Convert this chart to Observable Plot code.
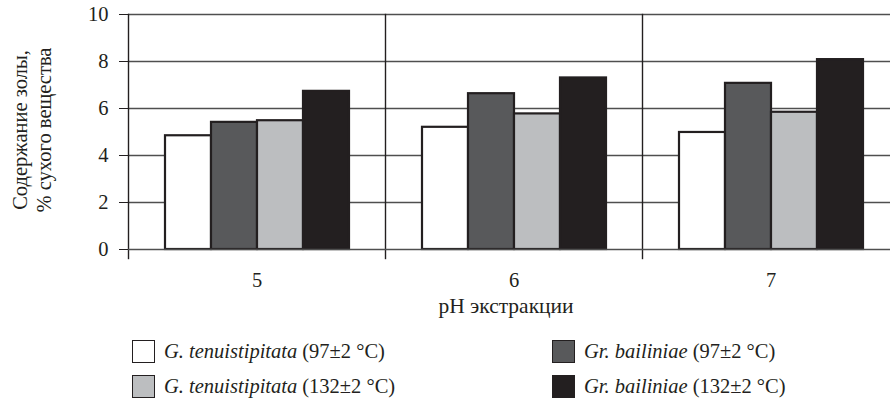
<!DOCTYPE html>
<html>
<head>
<meta charset="utf-8">
<script src="https://cdn.jsdelivr.net/npm/d3@7"></script>
<script src="https://cdn.jsdelivr.net/npm/@observablehq/plot@0.6"></script>
<style>
  html, body { margin: 0; padding: 0; background: #fff; }
  #wrap { position: relative; width: 890px; height: 401px; overflow: hidden; font-family: "Liberation Serif", serif; color: #231f20; }
  #chart svg { display: block; }
  .legend-item { position: absolute; display: flex; align-items: center; font-size: 20.5px; white-space: nowrap; }
  .swatch { box-sizing: border-box; width: 23px; height: 23px; border: 1.6px solid #231f20; margin-right: 9px; }
  .legend-item i { font-style: italic; margin-right: 5px; }
</style>
</head>
<body>
<div id="wrap">
  <div id="chart"></div>
  <div id="legend"></div>
</div>
<script>
// pH of the extraction (groups along the x axis)
const phLevels = ["5", "6", "7"];

// series: species and extraction temperature
const seriesKeys = ["gt97", "gb97", "gt132", "gb132"];
const seriesSpecies = ["G. tenuistipitata", "Gr. bailiniae", "G. tenuistipitata", "Gr. bailiniae"];
const seriesTemps = ["97±2 °C", "97±2 °C", "132±2 °C", "132±2 °C"];
const seriesFills = ["#ffffff", "#58595b", "#bcbec0", "#231f20"];

// ash content, % of dry matter, one array per pH (series order as above)
const ashPh5 = [4.84, 5.41, 5.48, 6.73];
const ashPh6 = [5.20, 6.63, 5.77, 7.30];
const ashPh7 = [4.98, 7.07, 5.84, 8.08];

const yTicks = [0, 2, 4, 6, 8, 10];
const yLabel = "Содержание золы,\n% сухого вещества";
const xLabel = "pH экстракции";

const ashByPh = [ashPh5, ashPh6, ashPh7];
const rows = [];
phLevels.forEach((ph, i) => {
  ashByPh[i].forEach((v, j) => rows.push({ph, key: seriesKeys[j], value: v}));
});

const ink = "#231f20";
const grid = "#4f4f4f";
const serif = '"Liberation Serif", serif';

const plot = Plot.plot({
  width: 890,
  height: 325,
  marginTop: 14,
  marginBottom: 76,
  marginLeft: 128,
  marginRight: 0,
  style: {fontFamily: serif, fontSize: "20.5px", color: ink, background: "transparent", overflow: "hidden"},
  fx: {domain: phLevels, range: [128, 899], padding: 0, axis: "bottom", label: null, tickSize: 0, tickPadding: 23},
  x: {domain: seriesKeys, paddingInner: 0, paddingOuter: 0.75, axis: null},
  y: {domain: [0, 10], ticks: yTicks, tickSize: 9, tickPadding: 11, label: null, tickFormat: d => String(d)},
  color: {domain: seriesKeys, range: seriesFills},
  marks: [
    Plot.ruleY(yTicks.filter(d => d > 0), {stroke: grid, strokeWidth: 1.6}),
    Plot.frame({anchor: "left", stroke: ink, strokeWidth: 1.4, insetBottom: -9}),
    Plot.barY(rows, {fx: "ph", x: "key", y: "value", fill: "key", stroke: ink, strokeWidth: 2.2}),
    Plot.ruleY([0], {stroke: grid, strokeWidth: 1.6}),
    Plot.text([yLabel], {fx: () => phLevels[0], text: d => d, frameAnchor: "left", rotate: -90, dx: -97, dy: -2, lineAnchor: "middle", textAnchor: "middle", fontSize: 20.5, lineHeight: 1.15, fontFamily: serif, fill: ink}),
    Plot.text([xLabel], {fx: () => phLevels[1], text: d => d, frameAnchor: "bottom", dy: 57, dx: -8, lineAnchor: "middle", textAnchor: "middle", fontSize: 21.5, fontFamily: serif, fill: ink})
  ]
});
document.getElementById("chart").appendChild(plot);

// legend below the chart: two columns, series in the order white, light grey | dark grey, black
const legend = document.getElementById("legend");
const legendSlots = [
  {i: 0, left: 132, top: 340},
  {i: 2, left: 132, top: 375},
  {i: 1, left: 552, top: 340},
  {i: 3, left: 552, top: 375}
];
legendSlots.forEach(({i, left, top}) => {
  const item = document.createElement("div");
  item.className = "legend-item";
  item.style.left = left + "px";
  item.style.top = top + "px";
  const sw = document.createElement("div");
  sw.className = "swatch";
  sw.style.background = seriesFills[i];
  const sp = document.createElement("i");
  sp.textContent = seriesSpecies[i];
  const tp = document.createElement("span");
  tp.textContent = "(" + seriesTemps[i] + ")";
  item.append(sw, sp, tp);
  legend.appendChild(item);
});
</script>
</body>
</html>
